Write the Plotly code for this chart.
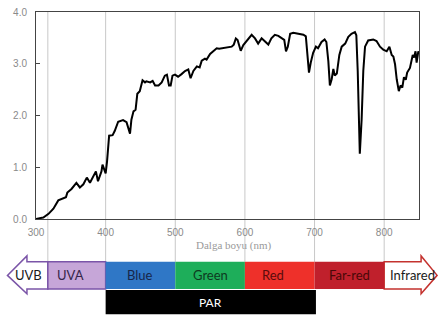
import plotly.graph_objects as go

# ---- data ----
wavelength = [300, 310.5, 318, 325, 332, 339, 343, 345, 351, 358, 363, 368, 373, 377.5, 382, 386, 389, 394,
              395.5, 397.5, 400, 402, 405, 410, 413, 418, 425, 430, 432.5, 435, 437, 440, 443, 445.5, 449,
              453, 456.5, 458.5, 464, 467.5, 471, 476, 480.5, 485, 488, 491, 493.4, 496, 499.6, 504, 509,
              514, 518.7, 522, 526, 531, 535, 538, 542.6, 545, 550, 554.6, 559.5, 563, 573.6, 581, 584,
              587, 589.5, 594, 597.7, 602.5, 609.7, 614.5, 619, 624, 628.7, 633.6, 638, 643, 648, 652.8,
              656.5, 659, 661.6, 665, 669.5, 676.7, 684, 687.5, 689.6, 692, 694.5, 698, 702, 705, 710,
              714.5, 717, 719.8, 722, 724.6, 727, 729, 732, 735.6, 739, 744, 748.5, 753, 758, 760, 762,
              764, 765, 767.6, 770, 772.5, 777, 784.3, 789, 794, 798.7, 803.6, 807.5, 810.8, 813.2, 815.6,
              818, 821, 823.5, 826, 828.4, 831, 833, 837, 841, 843, 845, 846.6, 849, 850]
irradiance = [0.0, 0.03, 0.1, 0.2, 0.36, 0.39, 0.42, 0.51, 0.58, 0.7, 0.61, 0.67, 0.8, 0.7, 0.83, 0.92, 0.73,
              0.92, 1.05, 0.95, 0.88, 1.11, 1.61, 1.62, 1.7, 1.88, 1.91, 1.87, 1.76, 1.65, 1.92, 2.08,
              2.11, 2.42, 2.47, 2.68, 2.64, 2.66, 2.64, 2.67, 2.58, 2.58, 2.64, 2.77, 2.79, 2.58, 2.58,
              2.77, 2.79, 2.75, 2.8, 2.86, 2.89, 2.72, 2.86, 2.95, 2.93, 3.06, 3.1, 3.08, 3.19, 3.24, 3.3,
              3.29, 3.31, 3.33, 3.37, 3.49, 3.46, 3.25, 3.36, 3.44, 3.56, 3.49, 3.39, 3.49, 3.44, 3.37,
              3.49, 3.56, 3.54, 3.49, 3.46, 3.24, 3.33, 3.58, 3.6, 3.58, 3.56, 3.53, 3.17, 2.83, 3.02,
              3.21, 3.33, 3.30, 3.42, 3.47, 3.42, 3.05, 2.58, 2.70, 2.9, 2.77, 2.81, 3.17, 3.33, 3.39,
              3.52, 3.58, 3.61, 3.55, 2.86, 1.92, 1.26, 1.92, 2.86, 3.33, 3.45, 3.47, 3.44, 3.33, 3.27,
              3.24, 3.33, 3.17, 3.14, 2.99, 2.70, 2.47, 2.58, 2.54, 2.74, 2.69, 2.83, 2.92, 3.17, 3.12,
              3.24, 3.02, 3.24, 3.2]

x_ticks = [300, 400, 500, 600, 700, 800]
y_ticks = [0, 1, 2, 3, 4]
grid_lines = [317, 400, 500, 600, 700, 800]

band_names = ["UVA", "Blue", "Green", "Red", "Far-red"]
band_starts = [317, 400, 500, 600, 700]
band_ends = [400, 500, 600, 700, 800]
band_colors = ["#c6a6d8", "#2f77c6", "#1eae5a", "#ee302a", "#c0202c"]
band_text_colors = ["#35264a", "#17264a", "#0d3a20", "#5a0c0c", "#4a0808"]
band_label_pos = [350, 450, 550, 640, 750]

uvb_range = [287, 317]
ir_range = [800, 853]
par_range = [400, 702]

X0, X1 = 300, 850
fig = go.Figure()
fig.add_trace(go.Scatter(x=wavelength, y=irradiance, mode="lines",
                         line=dict(color="black", width=2), hoverinfo="skip", showlegend=False))

def px(nm):
    return (nm - X0) / (X1 - X0)

def py(pix):  # pixel row -> paper y (plot area rows 6..219)
    return (219 - pix) / 213.0

shapes = []
for g in grid_lines:
    shapes.append(dict(type="line", xref="x", yref="paper", x0=g, x1=g, y0=1, y1=py(263),
                       line=dict(color="#c8c8c8", width=1), layer="below"))

yt, yb = py(263), py(291)
yht, yhb = py(257), py(296)
ym = (yt + yb) / 2

# UVB arrow (left)
xr, xb, xtip = px(uvb_range[1]), px(uvb_range[0]), px(259)
shapes.append(dict(type="path", xref="paper", yref="paper",
                   path=f"M{xr},{yt} L{xb},{yt} L{xb},{yht} L{xtip},{ym} L{xb},{yhb} L{xb},{yb} L{xr},{yb} Z",
                   fillcolor="white", line=dict(color="#7b55a8", width=1.5)))
# Infrared arrow (right)
xl, xb2, xtip2 = px(ir_range[0]), px(ir_range[1]), px(876)
shapes.append(dict(type="path", xref="paper", yref="paper",
                   path=f"M{xl},{yt} L{xb2},{yt} L{xb2},{yht} L{xtip2},{ym} L{xb2},{yhb} L{xb2},{yb} L{xl},{yb} Z",
                   fillcolor="white", line=dict(color="#c4322e", width=1.5)))

for name, s, e, c in zip(band_names, band_starts, band_ends, band_colors):
    line = dict(color="#7b55a8", width=1.5) if name == "UVA" else dict(width=0)
    shapes.append(dict(type="rect", xref="paper", yref="paper", x0=px(s), x1=px(e), y0=yb, y1=yt,
                       fillcolor=c, line=line))

# PAR bar
shapes.append(dict(type="rect", xref="paper", yref="paper", x0=px(par_range[0]), x1=px(par_range[1]),
                   y0=py(317), y1=py(292), fillcolor="black", line=dict(width=0)))

annotations = []
label_font = "Lato, Open Sans, sans-serif"

def ann(x, y, text, font):
    annotations.append(dict(x=x, y=y, xref="paper", yref="paper", text=text, showarrow=False,
                            xanchor="center", yanchor="middle", font=font))

for name, cx, tc in zip(band_names, band_label_pos, band_text_colors):
    ann(px(cx), ym, name, dict(family=label_font, size=13, color=tc))
ann(px(289), ym, "UVB", dict(family=label_font, size=13, color="#1a1a1a"))
ann(px(840), ym, "Infrared", dict(family=label_font, size=13, color="#1a1a1a"))
ann(px(551), (py(292) + py(317)) / 2, "PAR", dict(family=label_font, size=12, color="white"))
ann(px(583), py(246), "Dalga boyu (nm)", dict(family="Liberation Serif, serif", size=11, color="#9a9a9a"))

fig.update_layout(
    width=439, height=322,
    margin=dict(l=36, r=20, t=6, b=103),
    paper_bgcolor="white", plot_bgcolor="white",
    shapes=shapes, annotations=annotations,
    xaxis=dict(range=[X0, X1], tickvals=x_ticks, ticktext=[str(v) for v in x_ticks],
               showgrid=False, zeroline=False, showline=True, mirror=True, linecolor="#444", linewidth=1,
               ticks="", ticklabelstandoff=4,
               tickfont=dict(family="Liberation Sans, Arial, sans-serif", size=10, color="#8a8a8a")),
    yaxis=dict(range=[0, 4], tickvals=y_ticks, ticktext=[f"{v:.1f}" for v in y_ticks],
               showgrid=False, zeroline=False, showline=True, mirror=True, linecolor="#444", linewidth=1,
               ticks="inside", ticklen=4, tickcolor="#444", ticklabelstandoff=6,
               tickfont=dict(family="Liberation Sans, Arial, sans-serif", size=10, color="#8a8a8a")),
)

fig.write_html("out.html", config={"displayModeBar": False},
               post_script="document.body.style.margin='0';document.body.style.overflow='hidden';")
